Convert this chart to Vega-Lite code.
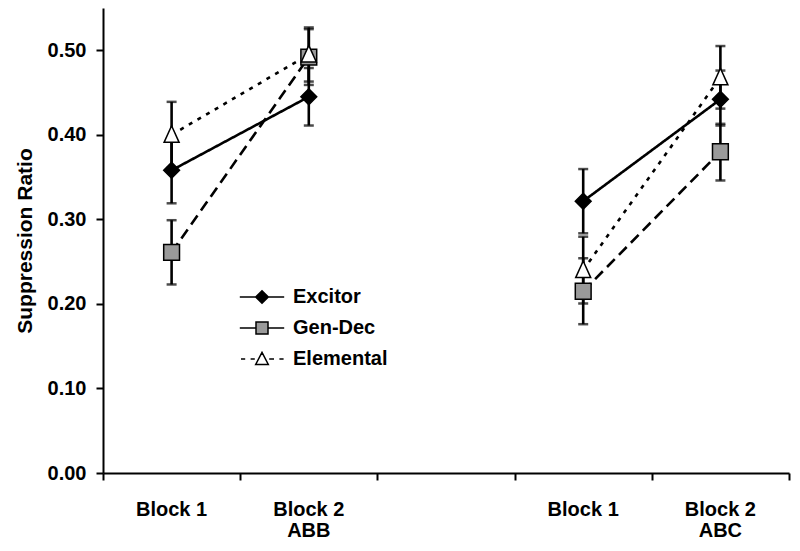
{
  "$schema": "https://vega.github.io/schema/vega-lite/v6.json",
  "width": 686,
  "height": 465,
  "autosize": {"type": "none"},
  "padding": {"left": 103, "top": 8, "right": 11, "bottom": 78},
  "background": "white",
  "data": {
    "values": [
      {"cond": "ABB", "pos": "ABB Block 1", "group": "Excitor", "mean": 0.358, "lo": 0.319, "hi": 0.397},
      {"cond": "ABB", "pos": "ABB Block 2", "group": "Excitor", "mean": 0.445, "lo": 0.411, "hi": 0.479},
      {"cond": "ABC", "pos": "ABC Block 1", "group": "Excitor", "mean": 0.3215, "lo": 0.2835, "hi": 0.3595},
      {"cond": "ABC", "pos": "ABC Block 2", "group": "Excitor", "mean": 0.442, "lo": 0.411, "hi": 0.476},
      {"cond": "ABB", "pos": "ABB Block 1", "group": "Gen-Dec", "mean": 0.261, "lo": 0.223, "hi": 0.299},
      {"cond": "ABB", "pos": "ABB Block 2", "group": "Gen-Dec", "mean": 0.492, "lo": 0.459, "hi": 0.525},
      {"cond": "ABC", "pos": "ABC Block 1", "group": "Gen-Dec", "mean": 0.215, "lo": 0.176, "hi": 0.254},
      {"cond": "ABC", "pos": "ABC Block 2", "group": "Gen-Dec", "mean": 0.380, "lo": 0.346, "hi": 0.413},
      {"cond": "ABB", "pos": "ABB Block 1", "group": "Elemental", "mean": 0.400, "lo": 0.361, "hi": 0.439},
      {"cond": "ABB", "pos": "ABB Block 2", "group": "Elemental", "mean": 0.495, "lo": 0.463, "hi": 0.527},
      {"cond": "ABC", "pos": "ABC Block 1", "group": "Elemental", "mean": 0.240, "lo": 0.2005, "hi": 0.2795},
      {"cond": "ABC", "pos": "ABC Block 2", "group": "Elemental", "mean": 0.468, "lo": 0.431, "hi": 0.505}
    ]
  },
  "resolve": {"axis": {"x": "independent"}, "scale": {"shape": "independent", "fill": "independent"}},
  "layer": [
    {
      "mark": {"type": "line", "color": "black", "strokeWidth": 2.6},
      "encoding": {
        "x": {
          "field": "pos", "type": "nominal",
          "scale": {"type": "band", "domain": ["ABB Block 1", "ABB Block 2", "gap", "ABC Block 1", "ABC Block 2"], "paddingInner": 0, "paddingOuter": 0},
          "axis": {"orient": "bottom", "title": null, "labels": false, "tickBand": "extent", "ticks": true, "tickSize": 7, "tickWidth": 2, "tickColor": "black", "domainColor": "black", "domainWidth": 2}
        },
        "y": {
          "field": "mean", "type": "quantitative",
          "scale": {"domain": [0, 0.55], "nice": false, "zero": true},
          "title": "Suppression Ratio",
          "axis": {"values": [0, 0.1, 0.2, 0.3, 0.4, 0.5], "format": ".2f", "grid": false}
        },
        "strokeDash": {
          "field": "group", "type": "nominal",
          "scale": {"domain": ["Gen-Dec", "Excitor", "Elemental"], "range": [[11, 6], [1, 0], [4, 6]]},
          "legend": null
        },
        "detail": {"field": "cond", "type": "nominal"}
      }
    },
    {
      "mark": {"type": "rule", "color": "black", "strokeWidth": 2.6},
      "encoding": {
        "x": {
          "field": "pos", "type": "nominal",
          "scale": {"type": "band", "domain": ["ABB Block 1", "ABB Block 2", "gap", "ABC Block 1", "ABC Block 2"], "paddingInner": 0, "paddingOuter": 0},
          "axis": {"orient": "bottom", "title": null, "ticks": false, "tickSize": 0, "domain": false, "bandPosition": 0, "labelPadding": 47, "labelAngle": 0,
                   "labelExpr": "datum.value == 'ABB Block 2' ? 'ABB' : datum.value == 'ABC Block 2' ? 'ABC' : ''"}
        },
        "y": {"field": "lo", "type": "quantitative", "title": "Suppression Ratio"},
        "y2": {"field": "hi"}
      }
    },
    {
      "mark": {"type": "tick", "color": "black", "size": 10, "thickness": 2.5, "orient": "horizontal"},
      "encoding": {
        "x": {"field": "pos", "type": "nominal", "axis": null,
              "scale": {"type": "band", "domain": ["ABB Block 1", "ABB Block 2", "gap", "ABC Block 1", "ABC Block 2"], "paddingInner": 0, "paddingOuter": 0}},
        "y": {"field": "lo", "type": "quantitative", "title": "Suppression Ratio"}
      }
    },
    {
      "mark": {"type": "tick", "color": "black", "size": 10, "thickness": 2.5, "orient": "horizontal"},
      "encoding": {
        "x": {"field": "pos", "type": "nominal", "axis": null,
              "scale": {"type": "band", "domain": ["ABB Block 1", "ABB Block 2", "gap", "ABC Block 1", "ABC Block 2"], "paddingInner": 0, "paddingOuter": 0}},
        "y": {"field": "hi", "type": "quantitative", "title": "Suppression Ratio"}
      }
    },
    {
      "mark": {"type": "point", "filled": false, "stroke": "black", "strokeWidth": 1.5, "opacity": 1, "fillOpacity": 1, "size": 250},
      "encoding": {
        "x": {
          "field": "pos", "type": "nominal",
          "scale": {"type": "band", "domain": ["ABB Block 1", "ABB Block 2", "gap", "ABC Block 1", "ABC Block 2"], "paddingInner": 0, "paddingOuter": 0},
          "axis": {"orient": "bottom", "title": null, "ticks": false, "tickSize": 0, "domain": false, "labelPadding": 26, "labelAngle": 0,
                   "labelExpr": "datum.value == 'gap' ? '' : slice(datum.value, 4)"}
        },
        "y": {"field": "mean", "type": "quantitative", "title": "Suppression Ratio"},
        "shape": {
          "field": "group", "type": "nominal",
          "scale": {"domain": ["Excitor", "Gen-Dec", "Elemental"], "range": ["diamond", "square", "M0,-1.15L0.95,0.95L-0.95,0.95Z"]},
          "legend": null
        },
        "fill": {
          "field": "group", "type": "nominal",
          "scale": {"domain": ["Excitor", "Gen-Dec", "Elemental"], "range": ["black", "#9a9a9a", "white"]},
          "legend": null
        }
      }
    },
    {
      "transform": [{"filter": "false"}],
      "mark": {"type": "point", "filled": false, "stroke": "black", "strokeWidth": 2, "opacity": 1, "fillOpacity": 1},
      "encoding": {
        "x": {"field": "pos", "type": "nominal", "axis": null,
              "scale": {"type": "band", "domain": ["ABB Block 1", "ABB Block 2", "gap", "ABC Block 1", "ABC Block 2"], "paddingInner": 0, "paddingOuter": 0}},
        "y": {"field": "mean", "type": "quantitative", "title": "Suppression Ratio"},
        "shape": {
          "field": "group", "type": "nominal",
          "scale": {"domain": ["Excitor", "Gen-Dec", "Elemental"],
                    "range": ["M-3.7,0H3.7M0,-1.05L1.05,0L0,1.05L-1.05,0Z", "M-3.7,0H-1M1,0H3.7M-1,-1H1V1H-1Z", "M-3.5,0H-2.8M-1.9,0H-1.2M1.2,0H2.0M2.9,0H3.6M0,-1.1L1.05,0.9L-1.05,0.9Z"]},
          "legend": {
            "title": null, "orient": "none", "legendX": 149, "legendY": 279, "padding": 0,
            "symbolSize": 144, "labelOffset": 21, "rowPadding": 11,
            "labelFontSize": 20, "labelFont": "Liberation Sans", "labelFontWeight": "bold", "labelColor": "black"
          }
        },
        "fill": {
          "field": "group", "type": "nominal",
          "scale": {"domain": ["Excitor", "Gen-Dec", "Elemental"], "range": ["black", "#9a9a9a", "white"]},
          "legend": {
            "title": null, "orient": "none", "legendX": 149, "legendY": 279, "padding": 0,
            "symbolSize": 144, "labelOffset": 21, "rowPadding": 11,
            "labelFontSize": 20, "labelFont": "Liberation Sans", "labelFontWeight": "bold", "labelColor": "black"
          }
        }
      }
    }
  ],
  "config": {
    "view": {"stroke": null},
    "font": "Liberation Sans",
    "axis": {
      "labelFont": "Liberation Sans", "labelFontWeight": "bold", "labelFontSize": 20, "labelColor": "black",
      "titleFont": "Liberation Sans", "titleFontWeight": "bold", "titleColor": "black"
    },
    "axisY": {
      "labelFontSize": 20, "tickSize": 7, "tickWidth": 2, "tickColor": "black", "domainColor": "black", "domainWidth": 2,
      "labelPadding": 10, "titleFontSize": 21, "titlePadding": 12, "grid": false
    }
  }
}
